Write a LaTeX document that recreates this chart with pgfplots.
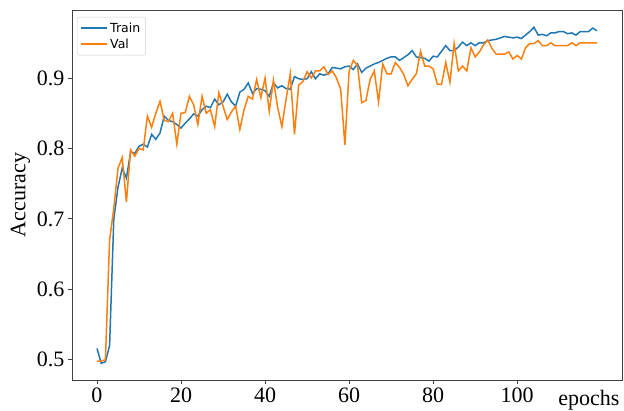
\documentclass[border=0pt]{standalone}
\usepackage{fontspec}
\setmainfont{Liberation Serif}
\newfontfamily\dejavu{DejaVu Sans}
\usepackage{pgfplots}
\pgfplotsset{compat=1.18}
\definecolor{tabblue}{HTML}{1F77B4}
\definecolor{taborange}{HTML}{FF7F0E}
\begin{document}
\begin{tikzpicture}
\useasboundingbox (-72pt,-31pt) rectangle (552pt,380pt);
\begin{axis}[
  scale only axis,
  width=550pt, height=370pt,
  xmin=-5.95, xmax=124.95,
  ymin=0.4712, ymax=0.9966,
  xtick={0,20,40,60,80,100},
  ytick={0.5,0.6,0.7,0.8,0.9},
  yticklabel style={/pgf/number format/fixed,/pgf/number format/precision=1},
  /pgf/number format/assume math mode=true,
  tick label style={font=\fontsize{22}{24}\selectfont},
  label style={font=\fontsize{22}{24}\selectfont},
  axis line style={black!75, line width=0.8pt},
  tick style={black!75, line width=0.8pt},
  tick align=outside,
  major tick length=4pt,
  xtick pos=bottom, ytick pos=left,
  xlabel={epochs},
  xlabel style={at={(rel axis cs:1,0)}, anchor=north east, yshift=-7pt, xshift=1pt},
  ylabel={Accuracy},
  ylabel style={yshift=0pt},
  legend cell align=left,
  legend style={at={(0,1)}, anchor=north west, xshift=5pt, yshift=-7pt,
    draw=black!20, rounded corners=2pt, fill=white,
    font=\dejavu\fontsize{12.5}{15}\selectfont, inner sep=3.5pt, row sep=1pt},
  legend image code/.code={\draw[#1] (0pt,0pt) -- (26pt,0pt);},
]
\addplot[tabblue, line width=1.5pt] coordinates {
(0,0.516)(1,0.495)(2,0.497)(3,0.520)(4,0.700)(5,0.745)(6,0.772)(7,0.758)(8,0.795)(9,0.793)
(10,0.803)(11,0.806)(12,0.802)(13,0.820)(14,0.813)(15,0.822)(16,0.846)(17,0.840)(18,0.838)(19,0.834)
(20,0.829)(21,0.836)(22,0.842)(23,0.849)(24,0.846)(25,0.855)(26,0.860)(27,0.858)(28,0.870)(29,0.862)
(30,0.866)(31,0.877)(32,0.866)(33,0.860)(34,0.880)(35,0.884)(36,0.893)(37,0.878)(38,0.885)(39,0.884)
(40,0.882)(41,0.874)(42,0.893)(43,0.886)(44,0.889)(45,0.885)(46,0.884)(47,0.902)(48,0.899)(49,0.898)
(50,0.899)(51,0.909)(52,0.899)(53,0.906)(54,0.904)(55,0.906)(56,0.915)(57,0.914)(58,0.913)(59,0.916)
(60,0.917)(61,0.912)(62,0.920)(63,0.908)(64,0.914)(65,0.917)(66,0.920)(67,0.922)(68,0.925)(69,0.928)
(70,0.930)(71,0.930)(72,0.925)(73,0.929)(74,0.933)(75,0.939)(76,0.930)(77,0.929)(78,0.928)(79,0.924)
(80,0.931)(81,0.930)(82,0.938)(83,0.946)(84,0.939)(85,0.939)(86,0.944)(87,0.951)(88,0.946)(89,0.950)
(90,0.946)(91,0.950)(92,0.950)(93,0.953)(94,0.954)(95,0.955)(96,0.957)(97,0.959)(98,0.958)(99,0.957)
(100,0.958)(101,0.956)(102,0.961)(103,0.966)(104,0.972)(105,0.961)(106,0.962)(107,0.960)(108,0.964)(109,0.964)
(110,0.966)(111,0.966)(112,0.963)(113,0.964)(114,0.961)(115,0.966)(116,0.966)(117,0.966)(118,0.971)(119,0.967)
};
\addlegendentry{Train}
\addplot[taborange, line width=1.5pt] coordinates {
(0,0.498)(1,0.498)(2,0.500)(3,0.670)(4,0.715)(5,0.772)(6,0.787)(7,0.724)(8,0.798)(9,0.789)
(10,0.800)(11,0.798)(12,0.846)(13,0.830)(14,0.850)(15,0.867)(16,0.840)(17,0.838)(18,0.850)(19,0.806)
(20,0.850)(21,0.851)(22,0.874)(23,0.862)(24,0.834)(25,0.874)(26,0.850)(27,0.855)(28,0.831)(29,0.879)
(30,0.860)(31,0.841)(32,0.852)(33,0.860)(34,0.827)(35,0.855)(36,0.874)(37,0.870)(38,0.898)(39,0.872)
(40,0.900)(41,0.853)(42,0.897)(43,0.858)(44,0.831)(45,0.870)(46,0.906)(47,0.820)(48,0.890)(49,0.895)
(50,0.909)(51,0.900)(52,0.910)(53,0.910)(54,0.916)(55,0.905)(56,0.910)(57,0.900)(58,0.884)(59,0.805)
(60,0.910)(61,0.925)(62,0.918)(63,0.865)(64,0.868)(65,0.898)(66,0.910)(67,0.866)(68,0.920)(69,0.906)
(70,0.906)(71,0.922)(72,0.915)(73,0.905)(74,0.889)(75,0.898)(76,0.906)(77,0.938)(78,0.917)(79,0.917)
(80,0.913)(81,0.891)(82,0.891)(83,0.922)(84,0.894)(85,0.949)(86,0.910)(87,0.917)(88,0.910)(89,0.943)
(90,0.930)(91,0.937)(92,0.947)(93,0.954)(94,0.942)(95,0.934)(96,0.934)(97,0.934)(98,0.937)(99,0.927)
(100,0.932)(101,0.927)(102,0.943)(103,0.949)(104,0.949)(105,0.953)(106,0.946)(107,0.946)(108,0.950)(109,0.946)
(110,0.946)(111,0.946)(112,0.946)(113,0.950)(114,0.946)(115,0.950)(116,0.950)(117,0.950)(118,0.950)(119,0.950)
};
\addlegendentry{Val}
\end{axis}
\end{tikzpicture}
\end{document}
